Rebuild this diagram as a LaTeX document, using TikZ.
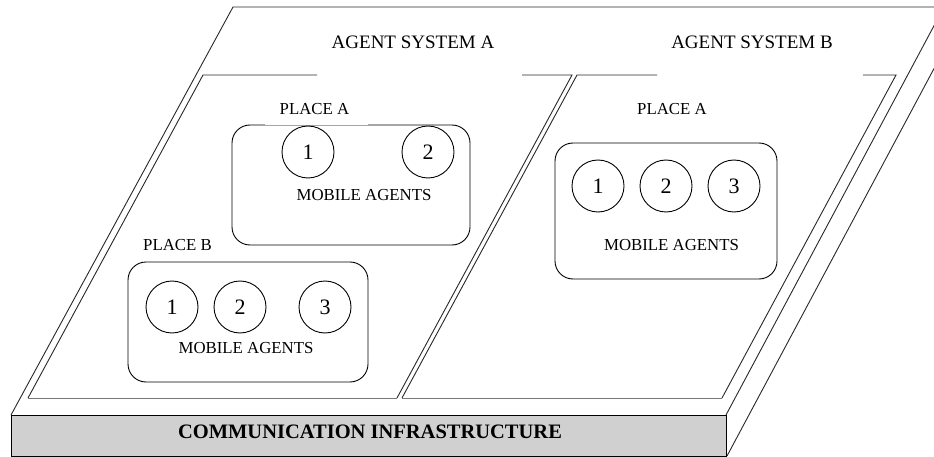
\documentclass[tikz,border=0pt]{standalone}
\usepackage{fontspec}
\setmainfont{Liberation Serif}
\definecolor{slabgray}{RGB}{208,208,208}
\definecolor{edge}{RGB}{40,40,40}
\definecolor{softedge}{RGB}{120,120,120}
\begin{document}
\begin{tikzpicture}[x=1pt,y=-1pt,
  every node/.style={inner sep=0pt},
  panelline/.style={draw=edge,line width=0.9pt},
  softline/.style={draw=softedge,line width=0.9pt},
  placebox/.style={draw=black,line width=0.9pt,rounded corners=18pt,fill=white},
  agent/.style={circle,draw=black,line width=0.9pt,minimum size=52pt,font=\fontsize{22}{24}\selectfont},
  lbl/.style={font=\fontsize{16.8}{19}\selectfont},
  syslbl/.style={font=\fontsize{19}{22}\selectfont},
  baselbl/.style={font=\bfseries\fontsize{20.5}{24}\selectfont}
]
\useasboundingbox (0,0) rectangle (934,457);
\clip (0,0) rectangle (934,457);
\fill[white] (0,0) rectangle (934,457);

% slab coordinates
\coordinate (sTL) at (233,7);
\coordinate (sBL) at (11,415);
\coordinate (sBR) at (726,415);
\coordinate (sTR) at (944,7);
\coordinate (fBR) at (727,456);
\coordinate (fTR) at (945,48);

% slab top face and side
\draw[panelline] (sBL) -- (sTL) -- (sTR);
\draw[panelline] (sBR) -- (sTR);
\draw[panelline] (fBR) -- (fTR);

% front face
\node[draw=black,line width=0.9pt,fill=slabgray,minimum width=715pt,minimum height=41pt,anchor=north west] (front) at (11,415) {};
\node[baselbl] (comm) at (370,432) {COMMUNICATION INFRASTRUCTURE};

% panel A
\coordinate (aTL) at (203,75);
\coordinate (aBL) at (28,398);
\coordinate (aBR) at (397,398);
\coordinate (aTR) at (572,75);
\coordinate (aG1) at (317,75);
\coordinate (aG2) at (522,75);
\draw[panelline] (aG1) -- (aTL) -- (aBL);
\draw[softline] (aBL) -- (aBR);
\draw[panelline] (aBR) -- (aTR) -- (aG2);

% panel B
\coordinate (bTL) at (577,75);
\coordinate (bBL) at (402,398);
\coordinate (bBR) at (722,398);
\coordinate (bTR) at (896,75);
\coordinate (bG1) at (657,75);
\coordinate (bG2) at (863,75);
\draw[panelline] (bG1) -- (bTL) -- (bBL);
\draw[softline] (bBL) -- (bBR);
\draw[panelline] (bBR) -- (bTR) -- (bG2);

% system labels
\node[syslbl] (sysA) at (413,42) {AGENT SYSTEM A};
\node[syslbl] (sysB) at (752,42) {AGENT SYSTEM B};

% place A (system A)
\node[placebox,minimum width=238pt,minimum height=120pt] (placeAA) at (351,185) {};
\coordinate (gapL) at (265,125);
\coordinate (gapR) at (368,125);
\draw[white,line width=1.6pt] (gapL) -- (gapR);
\draw[draw=black!35,line width=0.8pt] (gapL) -- (gapR);
\node[lbl] (lblAA) at (314.5,109) {PLACE A};
\node[agent] (aa1) at (308,152) {1};
\node[agent] (aa2) at (428,152) {2};
\node[lbl] (mobAA) at (364,195) {MOBILE AGENTS};

% place B (system A)
\node[placebox,minimum width=240pt,minimum height=120pt] (placeAB) at (248,322) {};
\node[lbl] (lblAB) at (177.5,245.5) {PLACE B};
\node[agent] (ab1) at (172,307) {1};
\node[agent] (ab2) at (240,307) {2};
\node[agent] (ab3) at (325,307) {3};
\node[lbl] (mobAB) at (246,348) {MOBILE AGENTS};

% place A (system B)
\node[placebox,minimum width=222pt,minimum height=136pt] (placeBA) at (666,211) {};
\node[lbl] (lblBA) at (672,109) {PLACE A};
\node[agent] (ba1) at (598,186) {1};
\node[agent] (ba2) at (666,186) {2};
\node[agent] (ba3) at (734,186) {3};
\node[lbl] (mobBA) at (671.5,245) {MOBILE AGENTS};
\end{tikzpicture}
\end{document}
